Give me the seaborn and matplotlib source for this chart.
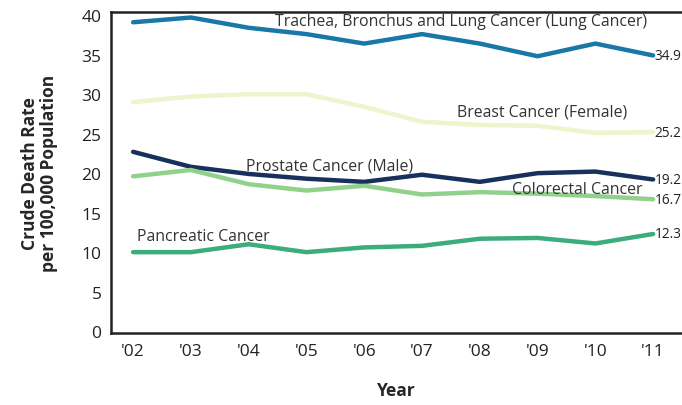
import pandas as pd
import numpy as np
import matplotlib
matplotlib.use("Agg")
import matplotlib.pyplot as plt
import seaborn as sns

years = ["'02", "'03", "'04", "'05", "'06", "'07", "'08", "'09", "'10", "'11"]

lung = [39.1, 39.7, 38.4, 37.6, 36.4, 37.6, 36.4, 34.8, 36.4, 34.9]
breast = [29.0, 29.7, 30.0, 30.0, 28.4, 26.5, 26.1, 26.0, 25.1, 25.2]
prostate = [22.7, 20.8, 19.9, 19.3, 18.9, 19.8, 18.9, 20.0, 20.2, 19.2]
colorectal = [19.6, 20.4, 18.6, 17.8, 18.4, 17.3, 17.6, 17.4, 17.1, 16.7]
pancreatic = [10.0, 10.0, 11.0, 10.0, 10.6, 10.8, 11.7, 11.8, 11.1, 12.3]

series = {
    "Trachea, Bronchus and Lung Cancer (Lung Cancer)": lung,
    "Breast Cancer (Female)": breast,
    "Prostate Cancer (Male)": prostate,
    "Colorectal Cancer": colorectal,
    "Pancreatic Cancer": pancreatic,
}
colors = ["#1a78a6", "#eef4cc", "#17305c", "#92d18c", "#3dac7c"]

rows = []
for name, vals in series.items():
    for i, v in enumerate(vals):
        rows.append({"cancer": name, "x": i, "rate": v})
df = pd.DataFrame(rows)

sns.set_style("white")
plt.rcParams["font.family"] = ["Open Sans", "DejaVu Sans"]

fig = plt.figure(figsize=(6.82, 4.06), dpi=100)
ax = fig.add_axes([0.163, 0.177, 0.837, 0.791])

sns.lineplot(data=df, x="x", y="rate", hue="cancer", palette=colors,
             linewidth=3.2, legend=False, ax=ax)

ax.set_xlim(-0.38, 9.5)
ax.set_ylim(-0.25, 40.4)
ax.set_xticks(range(len(years)))
ax.set_xticklabels(years, fontsize=12.5, color="#222222")
ax.set_yticks(range(0, 41, 5))
ax.set_yticklabels([str(t) for t in range(0, 41, 5)], fontsize=12.5, color="#222222")
ax.tick_params(axis="both", length=0)
ax.tick_params(axis="y", pad=7)
ax.tick_params(axis="x", pad=7)

for side in ["left", "bottom", "top"]:
    ax.spines[side].set_linewidth(1.8)
    ax.spines[side].set_color("#222222")
ax.spines["right"].set_visible(False)

ax.set_xlabel("Year", fontsize=12.5, fontweight="bold", labelpad=16)
ax.set_ylabel("Crude Death Rate\nper 100,000 Population", fontsize=12.5,
              fontweight="bold", labelpad=17, linespacing=1.05)

# series labels
lab_style = dict(fontsize=11.4, color="#333333")
ax.text(2.45, 38.2, "Trachea, Bronchus and Lung Cancer (Lung Cancer)", va="bottom", **lab_style)
ax.text(5.6, 26.8, "Breast Cancer (Female)", va="bottom", **lab_style)
ax.text(1.95, 19.9, "Prostate Cancer (Male)", va="bottom", **lab_style)
ax.text(6.55, 17.0, "Colorectal Cancer", va="bottom", **lab_style)
ax.text(0.07, 11.0, "Pancreatic Cancer", va="bottom", **lab_style)

# end values
for vals in series.values():
    ax.text(9.02, vals[-1], f"{vals[-1]:.1f}", va="center", ha="left",
            fontsize=9.8, color="#222222")

fig.savefig("out.png", dpi=100)
